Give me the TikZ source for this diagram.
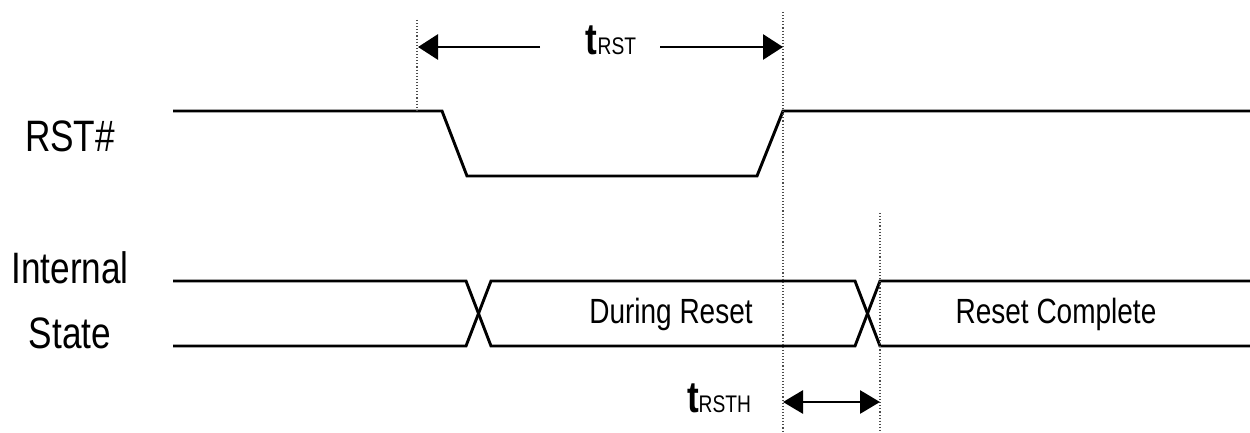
\documentclass[tikz,border=0pt]{standalone}
\usepackage{fontspec}
\usepackage{tikz}
\usetikzlibrary{arrows.meta}
\setmainfont{Liberation Sans}
\newfontfamily\sigfont{Liberation Sans}[FakeStretch=0.8]
\begin{document}
\begin{tikzpicture}[x=1pt,y=-1pt,
        sig/.style={line width=2.9pt,line join=miter},
        guide/.style={line width=1.1pt,dotted,black!70},
        dimline/.style={line width=2.9pt,-{Triangle[length=20pt,width=25pt]}},
        label/.style={font=\sigfont\fontsize{44}{44}\selectfont,anchor=base},
        state/.style={font=\sigfont\fontsize{35}{35}\selectfont,anchor=base}
    ]
    \useasboundingbox (0,0) rectangle (1250,433);
    % RST# waveform
    \coordinate (r0) at (173,111);
    \coordinate (fall) at (442,111);
    \coordinate (low0) at (467,176);
    \coordinate (low1) at (757,176);
    \coordinate (rise) at (783,111);
    \coordinate (r1) at (1250,111);
    \draw[sig] (r0) -- (fall) -- (low0) -- (low1) -- (rise) -- (r1);
    % internal state bus
    \coordinate (s0t) at (173,281);
    \coordinate (s0b) at (173,346);
    \coordinate (x1l) at (466,281);
    \coordinate (x1lb) at (466,346);
    \coordinate (x1r) at (491,281);
    \coordinate (x1rb) at (491,346);
    \coordinate (x2l) at (855,281);
    \coordinate (x2lb) at (855,346);
    \coordinate (x2r) at (880,281);
    \coordinate (x2rb) at (880,346);
    \coordinate (s1t) at (1250,281);
    \coordinate (s1b) at (1250,346);
    \draw[sig] (s0t) -- (x1l) -- (x1rb) -- (x2lb) -- (x2r) -- (s1t);
    \draw[sig] (s0b) -- (x1lb) -- (x1r) -- (x2l) -- (x2rb) -- (s1b);
    % guide lines
    \coordinate (g1t) at (417,20);
    \coordinate (g1b) at (417,111);
    \coordinate (g2t) at (783,12);
    \coordinate (g2b) at (783,433);
    \coordinate (g3t) at (880,213);
    \coordinate (g3b) at (880,433);
    \draw[guide] (g1t) -- (g1b);
    \draw[guide] (g2t) -- (g2b);
    \draw[guide] (g3t) -- (g3b);
    % timing labels
    \node[anchor=base,inner sep=0pt] (trst) at (611,55)
        {\sigfont\fontsize{44}{44}\selectfont\bfseries t\fontsize{24}{24}\selectfont\mdseries RST};
    \node[anchor=base,inner sep=0pt] (trsth) at (719,412)
        {\sigfont\fontsize{44}{44}\selectfont\bfseries t\fontsize{24}{24}\selectfont\mdseries RSTH};
    \coordinate (a1) at (540,47);
    \coordinate (a1e) at (418,47);
    \coordinate (a2) at (660,47);
    \coordinate (a2e) at (783,47);
    \coordinate (h1) at (783,402);
    \coordinate (h2) at (880,402);
    \draw[dimline] (a1) -- (a1e);
    \draw[dimline] (a2) -- (a2e);
    \draw[dimline,{Triangle[length=20pt,width=23pt]}-{Triangle[length=20pt,width=23pt]}] (h1) -- (h2);
    % signal names
    \node[label] (rstname) at (70,152) {RST\#};
    \node[label] (intname) at (70,283) {Internal};
    \node[label] (statename) at (70,348) {State};
    \node[state] (during) at (671,323) {During Reset};
    \node[state] (complete) at (1056,323) {Reset Complete};
\end{tikzpicture}
\end{document}
